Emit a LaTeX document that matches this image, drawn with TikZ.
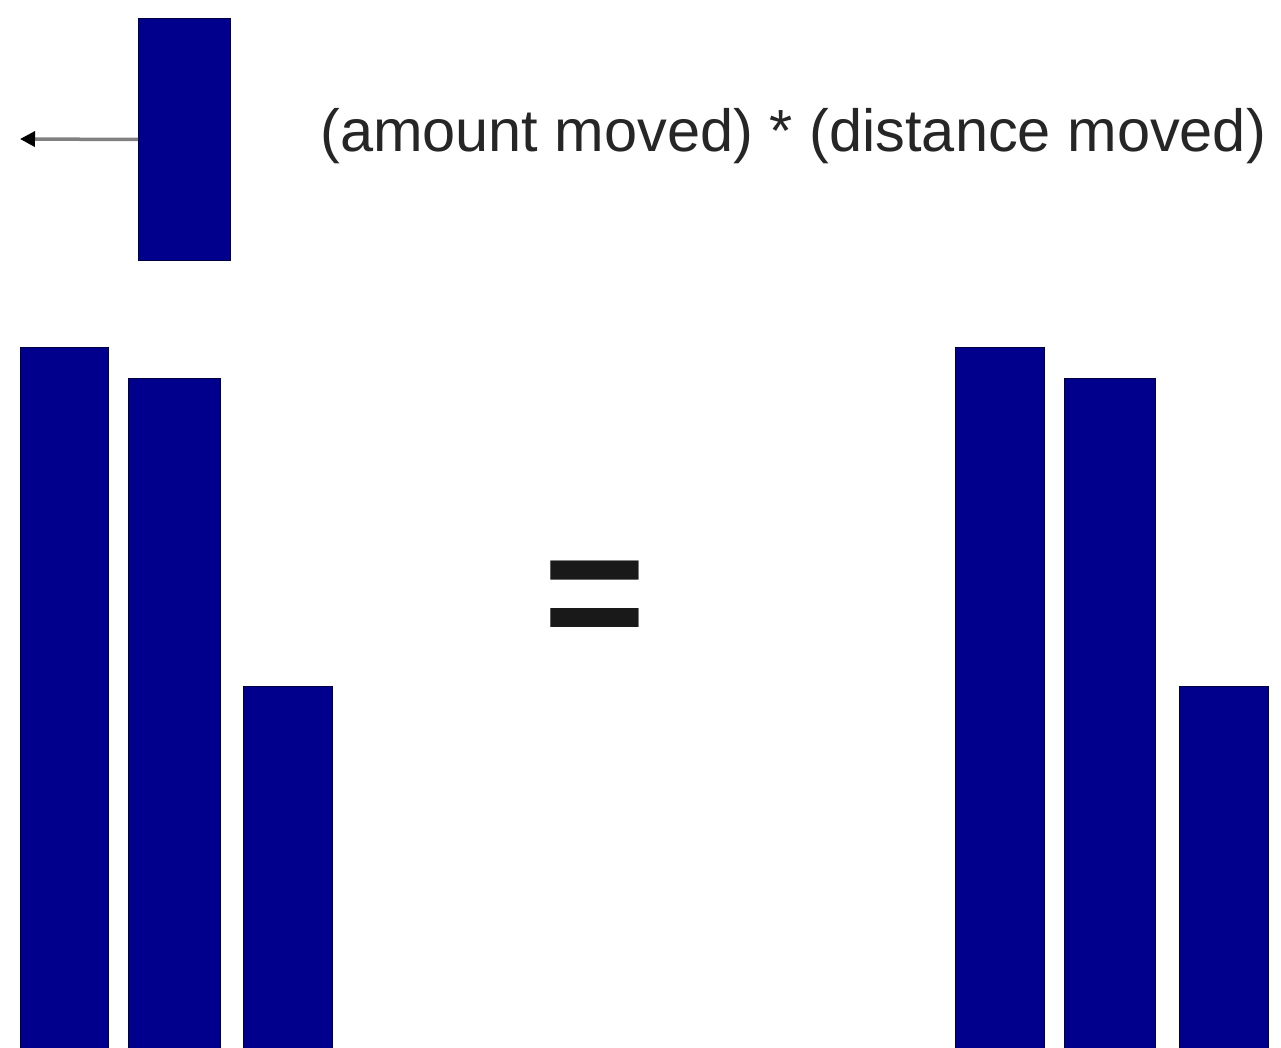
\documentclass[tikz,border=0pt]{standalone}
\usepackage{fontspec}
\setmainfont{Liberation Sans}
\usetikzlibrary{arrows.meta}
\definecolor{barblue}{RGB}{0,0,140}
\begin{document}
\begin{tikzpicture}[x=1pt,y=-1pt]
	\tikzset{bar/.style={fill=barblue, draw=black!55!barblue, line width=1pt},
		blk/.style={bar, inner sep=0pt, anchor=north west}}
	\useasboundingbox (0,0) rectangle (1281,1048);
	% the weight that is moved
	\node[blk, minimum width=92pt, minimum height=242pt] (w) at (138,18) {};
	\coordinate (tip) at (20,139);
	\draw[-{Triangle[length=15pt,width=15pt,color=black]}, gray, line width=3.5pt] (w.west) -- (tip);
	\node[anchor=base west, inner sep=0pt, text=black!85, font=\fontsize{59.5}{72}\selectfont] (lbl) at (320,152) {(amount moved) * (distance moved)};
	% the two sets of bars
	\foreach \x/\w/\t in {20/88/347, 128/92/378, 243/89/686, 955/89/347, 1064/91/378, 1179/89/686}
		\draw[bar] (\x,\t) rectangle ({\x+\w},1050);
	\node[anchor=base, inner sep=0pt, text=black!90, font=\bfseries\fontsize{176}{190}\selectfont] (eq) at (595,652) {=};
\end{tikzpicture}
\end{document}
